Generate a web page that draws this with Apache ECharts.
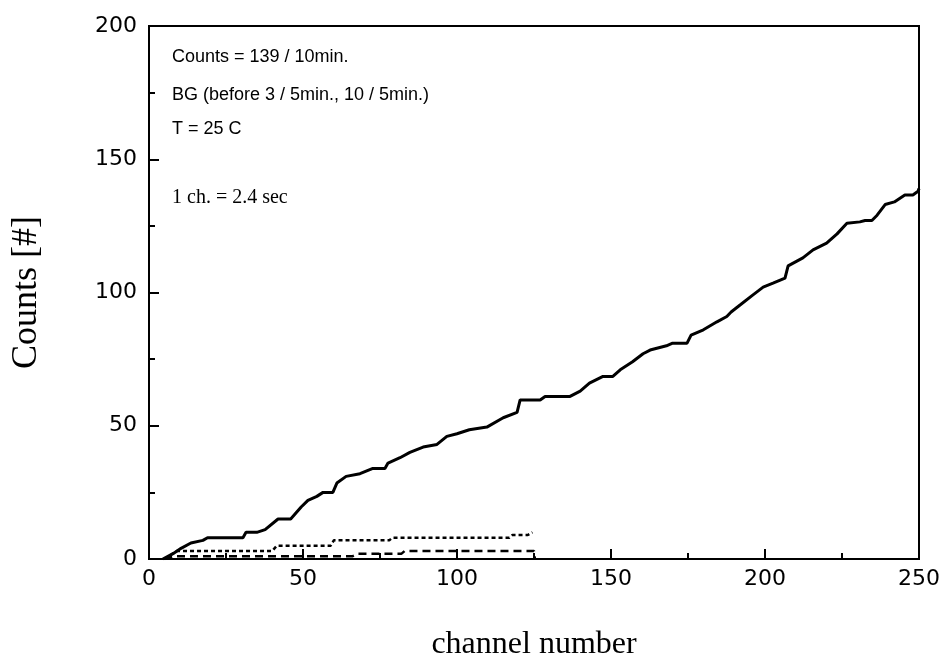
<!DOCTYPE html>
<html>
<head>
<meta charset="utf-8">
<script src="https://cdn.jsdelivr.net/npm/echarts@6/dist/echarts.min.js"></script>
<style>
html,body{margin:0;padding:0;background:#fff;}
#chart{width:947px;height:662px;}
</style>
</head>
<body>
<div id="chart"></div>
<script>
// measured sample (cumulative counts) — channel, counts
const sampleX = [4.5,7.8,10.4,13.6,17.5,19,30.5,31.5,35,37.7,41.9,46,49.4,51.6,54.5,56.5,59.7,61,64,68.5,72.7,76.6,77.6,81.5,84.7,89,93.5,96.7,100,104,109.7,115,119.5,120.5,127,128.6,136.7,140,143,147.4,150.6,153,157,160.4,162.7,168,170,174.7,176,180,184.4,187.6,189,191.9,196,199.4,202.6,206.5,207.5,212.3,215.6,220,223.4,226.6,230.8,232.5,234.7,236.4,239,242,245.4,248,249.7,250];
const sampleY = [0,2,4,6,7,8,8,10,10,11,15,15,19.5,22,23.5,25,25,28.5,31,32,34,34,36,38,40,42,43,46,47,48.5,49.5,53,55,59.7,59.7,61,61,63,66,68.5,68.5,71,74,77,78.4,80,81,81,84,86,89,91,92.7,95.3,99,102,103.5,105.4,110,113,116,118.5,122,126,126.5,127,127,129,133,134,136.6,136.6,138,139];

// background after (dotted)
const bgAfterX = [5,9,40,41.5,59,60,78,79,117,118,123,124.5];
const bgAfterY = [0,3,3,5,5,7,7,8,8,9,9,10];

// background before (dashed)
const bgBeforeX = [5,8,66,68,82,83,125,125.3];
const bgBeforeY = [0,1,1,2,2,3,3,0];

const xTicks = [0,50,100,150,200,250];
const yTicks = [0,50,100,150,200];

const notes = ['Counts = 139 / 10min.', 'BG (before 3 / 5min., 10 / 5min.)', 'T = 25 C'];
const note2 = '1 ch. = 2.4 sec';

function pairs(xs, ys){ return xs.map((x,i)=>[x, ys[i]]); }

const chart = echarts.init(document.getElementById('chart'), null, {renderer:'canvas'});
const axisFont = 'DejaVu Sans';
chart.setOption({
  animation:false,
  backgroundColor:'#fff',
  grid:{left:149, right:28, top:26, bottom:103, show:true, borderColor:'#000', borderWidth:2, backgroundColor:'transparent', containLabel:false, outerBoundsMode:'none'},
  xAxis:{
    type:'value', min:xTicks[0], max:xTicks[xTicks.length-1], interval:50,
    name:'channel number', nameLocation:'middle', nameGap:70,
    nameTextStyle:{fontFamily:'Liberation Serif', fontSize:32, color:'#000'},
    axisLine:{show:true, onZero:false, lineStyle:{color:'#000', width:2}},
    axisTick:{show:true, inside:true, length:10, lineStyle:{color:'#000', width:2}},
    minorTick:{show:true, splitNumber:2, length:6, lineStyle:{color:'#000', width:2}},
    splitLine:{show:false},
    axisLabel:{color:'#000', fontFamily:axisFont, fontSize:22, margin:9}
  },
  yAxis:{
    type:'value', min:yTicks[0], max:yTicks[yTicks.length-1], interval:50,
    name:'Counts [#]', nameLocation:'middle', nameGap:104, nameRotate:90,
    nameTextStyle:{fontFamily:'Liberation Serif', fontSize:36, color:'#000'},
    axisLine:{show:true, onZero:false, lineStyle:{color:'#000', width:2}},
    axisTick:{show:true, inside:true, length:10, lineStyle:{color:'#000', width:2}},
    minorTick:{show:true, splitNumber:2, length:6, lineStyle:{color:'#000', width:2}},
    splitLine:{show:false},
    axisLabel:{color:'#000', fontFamily:axisFont, fontSize:22, margin:12}
  },
  series:[
    {type:'line', data:pairs(sampleX, sampleY), showSymbol:false, symbol:'none', lineStyle:{color:'#000', width:3}, z:5},
    {type:'line', data:pairs(bgAfterX, bgAfterY), showSymbol:false, symbol:'none', lineStyle:{color:'#000', width:2.5, type:[4,3]}, z:4},
    {type:'line', data:pairs(bgBeforeX, bgBeforeY), showSymbol:false, symbol:'none', lineStyle:{color:'#000', width:2.5, type:[8,5]}, z:4}
  ],
  graphic:[
    {type:'text', left:172, top:48, style:{text:notes[0], font:'18px "Liberation Sans"', fill:'#000'}},
    {type:'text', left:172, top:86, style:{text:notes[1], font:'18px "Liberation Sans"', fill:'#000'}},
    {type:'text', left:172, top:120, style:{text:notes[2], font:'18px "Liberation Sans"', fill:'#000'}},
    {type:'text', left:172, top:188, style:{text:note2, font:'20px "Liberation Serif"', fill:'#000'}}
  ]
});
</script>
</body>
</html>
